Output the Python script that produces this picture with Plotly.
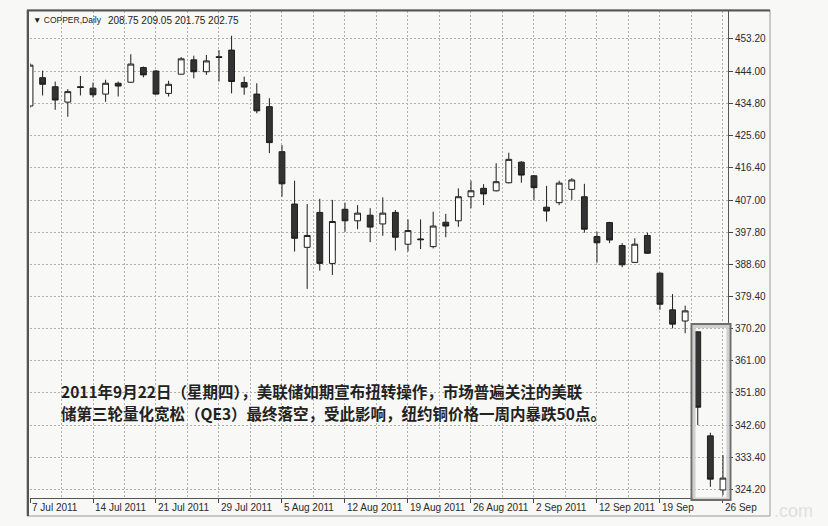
import plotly.graph_objects as go

# ---------------- data ----------------
opens = [434.0, 442.1, 439.5, 435.1, 439.5, 439.1, 437.4, 440.5, 440.8, 445.0,
         444.0, 437.6, 443.1, 447.2, 443.8, 448.1, 450.0, 440.7, 437.4, 433.8,
         420.9, 405.9, 393.5, 403.5, 388.9, 404.4, 401.1, 402.7, 400.2, 403.5,
         394.4, 395.9, 393.7, 400.7, 401.1, 408.0, 410.4, 409.7, 412.0, 417.9,
         414.0, 405.0, 406.3, 410.1, 408.0, 396.6, 400.6, 394.0, 389.2, 396.9,
         386.1, 375.6, 372.4, 369.3, 339.5, 324.0]
highs = [446.2, 444.1, 441.0, 438.8, 442.6, 440.7, 441.5, 441.0, 448.8, 445.3,
         444.3, 441.2, 448.0, 448.4, 448.6, 450.0, 454.1, 442.4, 440.5, 436.2,
         422.8, 412.6, 405.9, 407.4, 407.1, 406.3, 405.6, 404.7, 407.8, 404.2,
         401.5, 401.5, 403.7, 403.1, 410.4, 412.6, 411.6, 417.6, 420.6, 418.2,
         414.2, 411.1, 412.6, 413.3, 411.7, 398.0, 400.8, 394.7, 396.1, 397.7,
         386.3, 380.1, 376.8, 369.4, 340.4, 334.0]
lows = [433.5, 437.0, 432.9, 430.9, 437.0, 436.4, 435.2, 436.7, 440.6, 442.2,
        437.2, 436.7, 443.0, 441.9, 442.9, 441.0, 437.6, 437.2, 431.9, 420.5,
        408.0, 392.3, 381.6, 386.8, 385.6, 398.0, 398.7, 395.0, 396.8, 392.6,
        392.3, 393.0, 393.2, 396.4, 399.4, 404.7, 405.6, 409.5, 411.8, 412.0,
        407.1, 400.9, 405.6, 407.1, 397.7, 389.1, 394.7, 387.8, 389.0, 391.6,
        375.6, 370.3, 368.9, 342.6, 324.9, 322.5]
closes = [445.7, 440.2, 435.7, 438.1, 439.3, 437.2, 440.5, 439.7, 446.0, 442.9,
          437.4, 440.2, 447.5, 443.8, 446.9, 447.9, 441.0, 439.4, 432.6, 423.5,
          411.7, 396.1, 396.9, 388.9, 400.9, 401.1, 403.3, 399.3, 403.3, 396.4,
          398.3, 395.7, 399.6, 399.6, 408.0, 409.7, 408.8, 412.3, 418.7, 414.2,
          410.6, 403.9, 411.9, 412.8, 398.7, 394.8, 395.6, 388.5, 394.4, 391.8,
          377.2, 371.5, 375.3, 347.7, 327.1, 327.4]
bar_index = list(range(len(opens)))

date_tick_index = [0, 5, 10, 15, 20, 25, 30, 35, 40, 45, 50, 55]
date_tick_labels = ["7 Jul 2011", "14 Jul 2011", "21 Jul 2011", "29 Jul 2011",
                    "5 Aug 2011", "12 Aug 2011", "19 Aug 2011", "26 Aug 2011",
                    "2 Sep 2011", "12 Sep 2011", "19 Sep", "26 Sep"]

price_ticks = [453.20, 444.00, 434.80, 425.60, 416.40, 407.00, 397.80,
               388.60, 379.40, 370.20, 361.00, 351.80, 342.60, 333.40, 324.20]
price_tick_labels = ["%.2f" % v for v in price_ticks]

header_symbol = "▼ COPPER,Daily"
header_values = "208.75 209.05 201.75 202.75"
note_line1 = "2011年9月22日（星期四），美联储如期宣布扭转操作，市场普遍关注的美联"
note_line2 = "储第三轮量化宽松（QE3）最终落空，受此影响，纽约铜价格一周内暴跌50点。"
watermark = ".com"

# ---------------- layout geometry (pixels) ----------------
W, H = 828, 526
PL, PR, PT, PB = 30, 728, 11, 498   # plot area edges
pw, ph = PR - PL, PB - PT


def px(x):
    return (x - PL) / pw


def py(y):
    return (PB - y) / ph


BASE_FONT = "Liberation Sans, Arial, sans-serif"
CJK_FONT = "Noto Sans CJK SC, sans-serif"

fig = go.Figure()
fig.add_trace(go.Candlestick(
    x=bar_index, open=opens, high=highs, low=lows, close=closes,
    increasing=dict(line=dict(color="#1e1e1e", width=1), fillcolor="#ffffff"),
    decreasing=dict(line=dict(color="#1e1e1e", width=1), fillcolor="#333333"),
    whiskerwidth=0, showlegend=False, hoverinfo="skip",
))

grid = dict(gridcolor="#b0b0b0", griddash="2px,2px", gridwidth=1)

fig.update_layout(
    width=W, height=H,
    margin=dict(l=PL, r=W - PR, t=PT, b=H - PB),
    paper_bgcolor="#f8f8f6", plot_bgcolor="#f8f8f6",
    boxgap=0.34,
    font=dict(family=BASE_FONT, size=10, color="#2a2a2a"),
    xaxis=dict(
        range=[0, 55.4], rangeslider=dict(visible=False),
        tickmode="array", tickvals=date_tick_index, showticklabels=False,
        ticks="outside", ticklen=4, tickcolor="#444",
        showline=True, linecolor="#555", linewidth=1,
        showgrid=True, **grid,
        minor=dict(tick0=0, dtick=2.5, showgrid=True, gridcolor="#b0b0b0",
                   griddash="2px,2px", ticks=""),
        zeroline=False, fixedrange=True,
    ),
    yaxis=dict(
        side="right", range=[321.7, 461.2],
        tickmode="array", tickvals=price_ticks, ticktext=price_tick_labels,
        ticks="outside", ticklen=4, tickcolor="#444",
        tickfont=dict(family=BASE_FONT, size=10, color="#2a2a2a"),
        showline=True, linecolor="#555", linewidth=1,
        showgrid=True, **grid, zeroline=False, fixedrange=True,
    ),
)

annotations = []
for idx, lab in zip(date_tick_index, date_tick_labels):
    annotations.append(dict(
        x=idx, xref="x", y=py(507), yref="paper", text=lab,
        showarrow=False, xanchor="left", yanchor="middle", xshift=0,
        font=dict(family=BASE_FONT, size=10, color="#2a2a2a")))

annotations.append(dict(
    x=px(31), y=py(20), xref="paper", yref="paper", text=header_symbol,
    showarrow=False, xanchor="left", yanchor="middle",
    font=dict(family=BASE_FONT, size=8.5, color="#222")))
annotations.append(dict(
    x=px(106), y=py(20), xref="paper", yref="paper", text=header_values,
    showarrow=False, xanchor="left", yanchor="middle",
    font=dict(family=BASE_FONT, size=10, color="#222")))

annotations.append(dict(
    x=px(59), y=py(391), xref="paper", yref="paper", text=note_line1,
    showarrow=False, xanchor="left", yanchor="middle",
    font=dict(family=CJK_FONT, size=15.5, color="#222", weight="bold")))
annotations.append(dict(
    x=px(59), y=py(413), xref="paper", yref="paper", text=note_line2,
    showarrow=False, xanchor="left", yanchor="middle",
    font=dict(family=CJK_FONT, size=15.5, color="#222", weight="bold")))

annotations.append(dict(
    x=px(772), y=py(511), xref="paper", yref="paper", text=watermark,
    showarrow=False, xanchor="left", yanchor="middle",
    font=dict(family=BASE_FONT, size=18, color="#e0e0e0")))

fig.update_layout(annotations=annotations)

shapes = [
    # outer chart window frame
    dict(type="rect", xref="paper", yref="paper",
         x0=px(27), x1=px(770), y0=py(516), y1=py(10),
         line=dict(color="#9a9a9a", width=1), layer="above"),
    dict(type="line", xref="paper", yref="paper",
         x0=px(28), x1=px(28), y0=py(516), y1=py(10),
         line=dict(color="#555", width=2), layer="above"),
    dict(type="line", xref="paper", yref="paper",
         x0=px(27), x1=px(770), y0=py(10.5), y1=py(10.5),
         line=dict(color="#555", width=2), layer="above"),
    # highlight box around the final sell-off
    dict(type="rect", xref="paper", yref="paper",
         x0=px(694), x1=px(728), y0=py(499), y1=py(326.5),
         line=dict(color="#cfcfcf", width=3), layer="above"),
    dict(type="rect", xref="paper", yref="paper",
         x0=px(691.5), x1=px(730.5), y0=py(500), y1=py(324),
         line=dict(color="#6e6e6e", width=2), layer="above"),
]
fig.update_layout(shapes=shapes)

fig.write_html("out.html",
               config={"displayModeBar": False},
               post_script="document.body.style.margin='0';document.body.style.padding='0';")
